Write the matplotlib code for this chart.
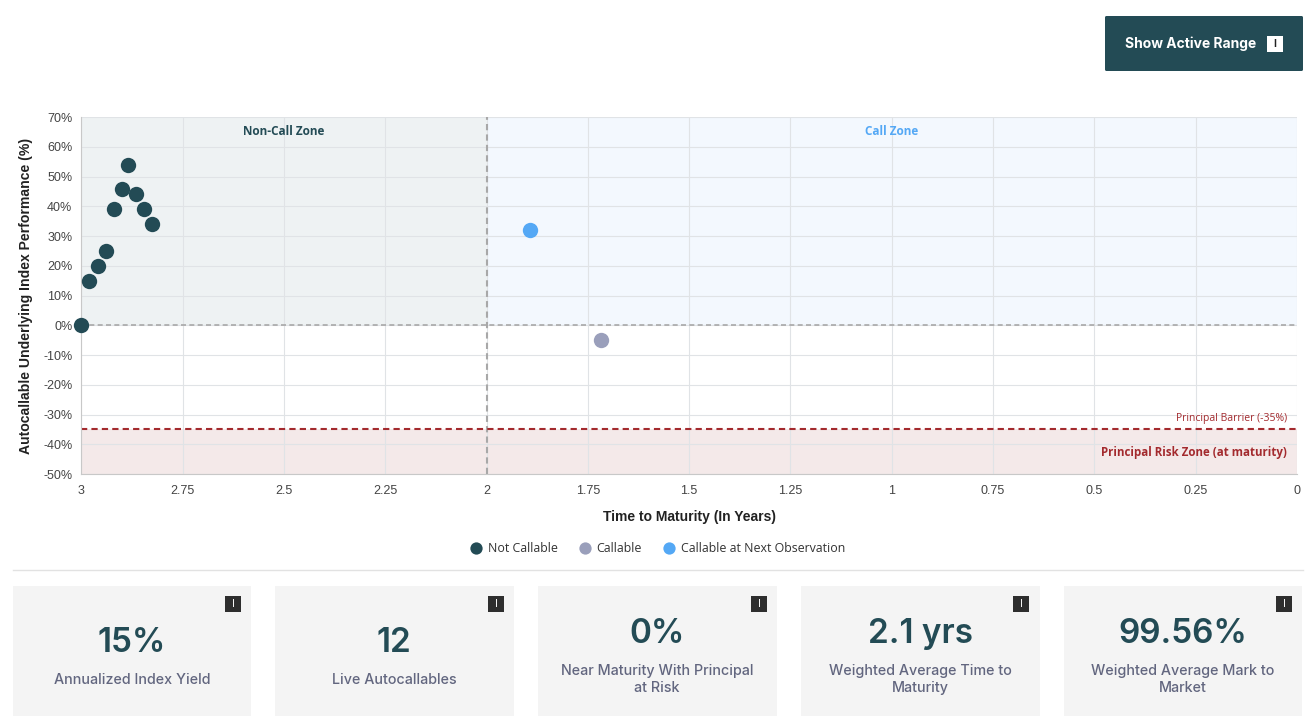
import matplotlib
matplotlib.use("Agg")
import matplotlib.pyplot as plt
from matplotlib.patches import Rectangle, FancyBboxPatch

W, H = 1311, 726

# chart data
not_callable_x = [3, 2.98, 2.96, 2.94, 2.92, 2.90, 2.885, 2.865, 2.845, 2.825]
not_callable_y = [0, 15, 20, 25, 39, 46, 54, 44, 39, 34]
callable_x = [1.717]
callable_y = [-5]
next_obs_x = [1.892]
next_obs_y = [32]

x_ticks = [3, 2.75, 2.5, 2.25, 2, 1.75, 1.5, 1.25, 1, 0.75, 0.5, 0.25, 0]
x_labels = ["3", "2.75", "2.5", "2.25", "2", "1.75", "1.5", "1.25", "1", "0.75", "0.5", "0.25", "0"]
y_ticks = [70, 60, 50, 40, 30, 20, 10, 0, -10, -20, -30, -40, -50]
barrier = -35

# cards
card_values = ["15%", "12", "0%", "2.1 yrs", "99.56%"]
card_labels = ["Annualized Index Yield", "Live Autocallables",
               "Near Maturity With Principal\nat Risk",
               "Weighted Average Time to\nMaturity",
               "Weighted Average Mark to\nMarket"]

TEAL = "#234b55"
GREY = "#9a9fbb"
BLUE = "#54a8f5"
RED = "#a32a2e"

fig = plt.figure(figsize=(W / 100, H / 100), dpi=100)

# page layer in pixel coordinates
page = fig.add_axes([0, 0, 1, 1])
page.set_xlim(0, W)
page.set_ylim(H, 0)
page.axis("off")

ax = fig.add_axes([81.3 / W, 1 - 474.1 / H, (1297 - 81.3) / W, 357 / H])
ax.set_xlim(3, 0)
ax.set_ylim(-50, 70)
ax.set_facecolor("none")

# zones
ax.axvspan(3, 2, ymin=50 / 120, ymax=1, color="#eef2f3", lw=0, zorder=0)
ax.axvspan(2, 0, ymin=50 / 120, ymax=1, color="#f3f8fe", lw=0, zorder=0)
ax.axhspan(-50, barrier, color="#f4e9e9", lw=0, zorder=0)

ax.set_xticks(x_ticks)
ax.set_xticklabels(x_labels)
ax.set_yticks(y_ticks)
ax.set_yticklabels([f"{v}%" for v in y_ticks])
ax.grid(True, color="#e0e3e6", lw=0.8, zorder=1)
ax.set_axisbelow(True)
ax.tick_params(length=0, labelsize=9, labelcolor="#444444")
ax.tick_params(axis="x", pad=8)
ax.tick_params(axis="y", pad=6.5)
for label in ax.get_xticklabels() + ax.get_yticklabels():
    label.set_family("Liberation Sans")
for side in ["top", "right"]:
    ax.spines[side].set_visible(False)
for side in ["left", "bottom"]:
    ax.spines[side].set_color("#c8c8c8")

ax.axvline(2, color="#a8a8a8", lw=1.5, ls=(0, (3, 2)), zorder=2)
ax.axhline(0, color="#a8a8a8", lw=1.2, ls=(0, (3, 2)), zorder=2)
ax.axhline(barrier, color=RED, lw=1.5, ls=(0, (3, 2)), zorder=2)

size = 122
ax.scatter(not_callable_x, not_callable_y, s=size, color=TEAL, lw=0, zorder=4, clip_on=False, label="Not Callable")
ax.scatter(callable_x, callable_y, s=size, color=GREY, lw=0, zorder=4, label="Callable")
ax.scatter(next_obs_x, next_obs_y, s=size, color=BLUE, lw=0, zorder=4, label="Callable at Next Observation")

ax.text(2.5, 65.2, "Non-Call Zone", color=TEAL, fontsize=8.5, fontweight="bold",
        family="Open Sans", ha="center", va="center")
ax.text(1, 65.2, "Call Zone", color=BLUE, fontsize=8.5, fontweight="bold",
        family="Open Sans", ha="center", va="center")
ax.text(0.025, -31.4, "Principal Barrier (-35%)", color=RED, fontsize=7.5,
        family="Open Sans", ha="right", va="center")
ax.text(0.025, -42.7, "Principal Risk Zone (at maturity)", color=RED, fontsize=8.3,
        fontweight="bold", family="Open Sans", ha="right", va="center")

ax.set_xlabel("Time to Maturity (In Years)", fontsize=10, fontweight="bold",
              family="Liberation Sans", color="#222222")
ax.set_ylabel("Autocallable Underlying Index Performance (%)", fontsize=10.1, fontweight="bold",
              family="Liberation Sans", color="#222222")
ax.xaxis.set_label_coords(0.5, -0.1)
ax.yaxis.set_label_coords(-0.040, 0.5)

ax.legend(loc="center", bbox_to_anchor=((657.5 - 81.3) / 1215.7, -(548 - 474.1) / 357), ncol=3,
          frameon=False, prop={"family": "Open Sans", "size": 8.9}, labelcolor="#333333",
          markerscale=0.8, handlelength=1, handletextpad=0.46, columnspacing=1.7)

# button
page.add_patch(FancyBboxPatch((1105, 16), 198, 55, boxstyle="round,pad=0,rounding_size=1.5",
                              fc=TEAL, ec="none"))
page.text(1190.5, 43.5, "Show Active Range", color="white", fontsize=10, fontweight="bold",
          family="Inter", ha="center", va="center")
page.add_patch(Rectangle((1267, 36), 16, 16, fc="white", ec="none"))
page.text(1275, 44, "I", color="#222222", fontsize=7.5, fontweight="bold",
          family="Liberation Sans", ha="center", va="center")

# divider under legend
page.plot([13, 1303], [569.5, 569.5], color="#e2e2e2", lw=1)

# stat cards
card_left = [13, 275, 538, 801, 1064]
icon_left = [225, 488, 751, 1013, 1276]
card_w = 238
for i in range(len(card_values)):
    page.add_patch(Rectangle((card_left[i], 586), card_w + (1 if i in (1, 2, 3) else 0), 130, fc="#f4f4f4", ec="none"))
    cx = card_left[i] + card_w / 2
    two_lines = "\n" in card_labels[i]
    page.text(cx, 634 if two_lines else 643, card_values[i], color=TEAL, fontsize=24, fontweight="semibold",
              family="Inter", ha="center", va="center")
    page.text(cx, 679.5, card_labels[i], color="#62667f", fontsize=10.3,
              family="Inter", fontweight="medium", ha="center", va="center", linespacing=1.33)
    page.add_patch(Rectangle((icon_left[i], 596), 16, 16, fc="#2e2e2e", ec="none"))
    page.text(icon_left[i] + 8, 604, "I", color="white", fontsize=7.5,
              family="Liberation Sans", ha="center", va="center")

fig.savefig("out.png", dpi=100, facecolor="white")
